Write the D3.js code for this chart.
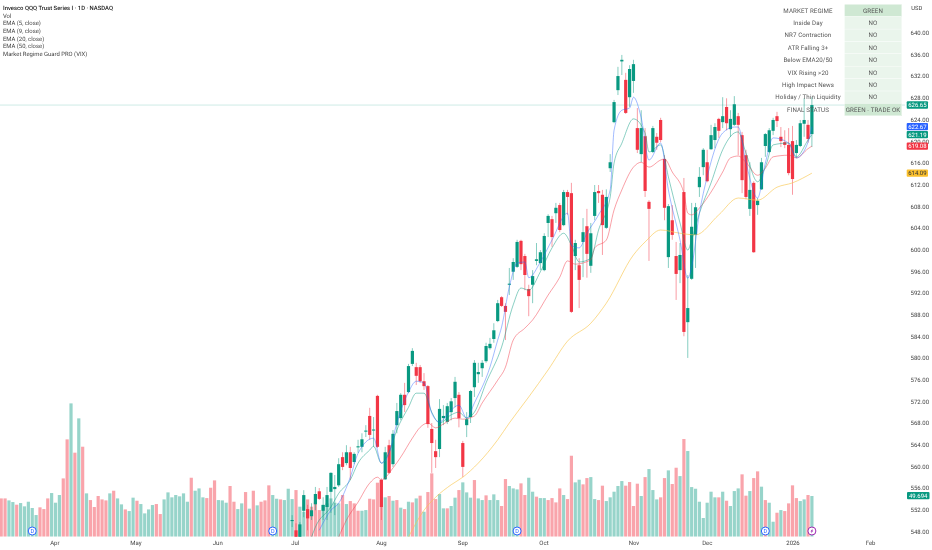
<!DOCTYPE html>
<html>
<head>
<meta charset="utf-8">
<script src="https://d3js.org/d3.v7.min.js"></script>
<style>
    body { margin: 0; background: #fff; }
    svg { display: block; filter: blur(0.3px); }
    text { font-family: Roboto, "Noto Sans", sans-serif; text-rendering: geometricPrecision; }
</style>
</head>
<body>
<svg width="932" height="550"></svg>

<script>
    // daily volume in millions, one per bar, first bar is bar 0
    const volume = [46.3,46.3,43.9,41.9,38.7,40.7,36.7,42.3,34.7,26.2,35.5,33.4,46.3,52.8,41.1,50.4,70.5,117.7,161.2,101.6,143.1,108.8,52.4,44.3,35.9,49.2,45.1,43.9,52.4,55.6,46.3,39.1,33.0,31.0,47.2,43.5,39.5,28.2,33.0,38.3,39.5,27.4,45.1,53.6,47.6,50.4,48.8,52.4,42.3,71.3,55.6,58.4,47.6,46.7,59.2,68.1,44.3,43.9,41.1,61.3,42.3,33.4,40.3,54.0,33.9,55.6,37.9,42.3,43.9,62.1,50.4,45.9,45.1,44.3,58.0,
        45.5,56.4,36.3,30.2,45.1,36.3,41.5,32.2,38.3,40.3,46.3,41.1,40.3,50.4,39.5,43.1,40.3,31.4,31.4,32.2,45.9,45.1,65.3,68.5,47.6,49.2,43.5,44.3,35.1,33.4,42.3,41.5,46.3,49.6,30.2,54.0,76.6,45.5,51.6,34.3,34.3,37.1,47.2,56.4,65.7,53.6,47.2,68.5,46.3,44.3,50.0,44.3,51.2,44.3,
        37.1,69.7,61.3,58.4,57.2,64.5,50.4,71.3,54.4,48.4,46.7,46.7,44.3,46.7,41.5,58.4,50.4,45.5,97.9,65.7,68.9,63.3,70.9,72.1,45.5,44.3,61.7,43.1,47.6,54.4,61.3,67.3,61.7,66.1,37.1,64.1,49.2,72.1,81.8,56.4,45.1,47.6,70.9,80.2,63.7,83.4,73.3,118.1,103.6,60.0,58.0,42.3,22.6,41.1,54.4,47.6,47.6,54.4,43.5,37.1,55.2,58.4,75.4,49.6,55.2,70.9,79.0,60.5,44.3,41.1,18.1,29.0,32.2,31.0,40.3,62.1,46.7,43.1,45.1,50.4,49.2];

    // g = up volume bar, r = down volume bar
    const volumeSide = ('rrggrgggggrrrgggrrgrgrgrrrrrgrggrggrggggrrgggggggrgggrrrgggrrggrgrgrrrggrgg' +
        'grggrrrrgggggrgrrrggrrrrgrgrgrgrgrgrrrggrggrgggrggrggg' +
        'rrgggrrggrggrrrrgrrggrrggrrgggggrrrrgrgggrrgrrgrggggggggrgrgggrrgrrgrggrgrrrrggrg').split('');

    // candles start here, the bars before sit below the price range of the picture
    const firstCandle = 75;
    const open = [549.9,548.2,546.4,551.8,552.1,550.8,553.0,555.4,551.8,552.5,555.3,555.8,556.5,561.7,560.6,562.6,560.8,563.5,563.6,566.4,569.3,566.6,573.0,557.5,557.6,563.9,560.4,567.6,568.9,573.2,573.7,578.9,578.3,578.3,575.7,574.8,566.9,562.8,563.2,568.9,568.2,570.0,572.6,573.2,564.3,567.6,569.1,574.6,577.0,578.1,579.4,581.8,583.5,586.8,591.2,589.6,593.5,595.9,596.8,601.6,598.8,592.7,593.5,597.9,597.5,596.2,604.9,605.6,606.7,608.2,604.5,610.6,610.4,598.8,597.1,601.4,604.3,597.0,606.2,610.8,610.1,604.0,615.0,623.5,629.4,634.7,631.3,628.1,631.1,622.4,617.6,620.9,608.8,618.0,620.8,623.9,616.7,598.6,605.4,598.8,596.2,610.6,586.6,594.6,602.7,611.5,615.2,616.1,618.5,620.2,624.1,623.5,626.3,622.2,623.0,624.6,621.1,617.4,607.5,612.3,608.2,611.1,619.1,618.0,621.9,624.6,620.8,619.8,619.3,620.0,617.8,619.1,623.2,623.0,621.3];
    const high = [551.0,549.5,549.7,555.6,552.9,553.2,556.2,556.0,554.3,556.2,558.9,558.4,561.5,562.6,563.9,563.6,562.6,564.9,566.1,567.6,570.8,569.1,573.2,557.8,563.6,564.9,566.7,571.7,573.5,575.4,578.9,581.8,579.1,578.7,577.2,575.0,568.0,564.9,572.4,571.3,571.7,572.6,576.5,573.7,564.7,570.0,574.1,579.6,579.1,579.6,582.8,583.7,586.4,590.7,591.4,590.1,596.6,598.4,601.8,601.8,599.2,593.5,596.2,601.2,599.9,603.0,606.5,606.2,608.6,608.6,611.0,611.0,612.3,601.8,598.4,605.8,607.5,604.9,611.9,611.9,611.0,611.1,617.6,627.6,633.7,635.9,632.6,634.0,635.0,626.1,625.7,622.4,609.1,622.8,621.5,624.3,617.4,608.4,608.2,601.4,601.2,613.2,595.3,608.6,608.6,615.2,618.7,618.4,623.0,623.3,624.3,628.1,627.9,625.7,628.3,625.2,621.7,618.4,616.1,612.6,609.5,616.9,621.5,622.4,624.3,625.4,622.6,622.0,622.4,622.8,620.2,623.9,627.9,623.9,628.1];
    const low = [548.8,545.5,545.5,550.6,548.2,550.1,551.9,553.8,550.1,550.1,551.4,551.0,556.2,559.3,560.2,557.5,560.4,562.5,562.6,565.4,564.9,563.6,563.4,550.1,557.5,558.6,559.9,566.1,568.5,570.0,573.5,578.5,575.0,575.4,574.1,567.1,558.8,559.7,561.7,567.6,567.8,568.5,570.9,567.2,558.0,565.4,568.0,572.8,575.4,576.5,579.1,581.5,582.8,586.6,589.4,583.3,591.6,594.4,596.6,596.2,592.5,587.7,590.1,597.1,596.2,596.0,602.3,600.5,604.9,603.2,604.3,606.4,588.3,596.2,589.2,594.9,594.8,595.7,605.4,608.6,599.0,603.8,614.3,623.3,628.5,632.2,625.0,626.3,628.9,617.8,616.1,609.7,597.9,617.8,618.4,619.8,605.4,596.6,601.8,590.7,593.8,584.0,580.0,594.4,596.6,609.7,613.7,612.4,618.4,618.7,620.6,622.4,622.0,620.8,622.8,617.4,610.4,609.3,606.2,599.4,606.4,611.0,617.1,617.8,621.1,622.6,618.9,618.7,613.7,610.1,616.9,618.9,620.8,619.7,618.9];
    const close = [550.1,546.4,549.3,554.7,550.4,551.9,554.9,554.0,552.9,554.7,558.8,556.2,560.4,559.9,562.6,559.7,562.3,563.7,565.0,566.6,565.8,566.8,563.6,552.5,562.6,558.8,566.0,570.2,573.2,571.3,578.5,581.3,576.7,575.7,574.8,567.8,564.3,561.7,570.6,569.3,571.1,572.0,575.6,568.9,559.9,568.7,573.9,579.1,577.4,579.1,582.2,582.6,585.1,590.1,589.6,588.5,593.7,597.7,601.4,597.3,595.3,591.4,595.1,598.2,599.5,602.5,606.2,602.3,607.7,603.6,610.6,609.7,588.5,601.2,594.4,603.2,599.2,603.0,610.6,610.4,604.5,609.7,616.1,627.2,632.0,635.0,625.2,633.3,634.2,618.4,622.4,610.8,607.5,622.4,619.7,620.2,607.7,608.0,602.7,595.5,599.0,584.8,589.2,604.2,607.8,613.4,618.4,612.6,621.1,622.6,621.9,624.6,623.3,624.1,626.8,623.0,612.8,609.7,611.0,599.5,609.0,616.1,621.3,622.0,623.9,623.7,620.0,619.3,614.1,613.0,619.3,623.3,623.9,620.4,626.65];

    // EMA lines, read at the turning points: bar number and price
    const ema5Bars = [82,85,87,90,92,96,98,100,102,105,107,109,111,113,116,118,120,122,126,128,129,131,133,135,136,139,142,146,147,149,151,154,157,158,160,162,163,165,167,170,172,175,177,178,180,182,186,189,190,192,195,197,199,203,205,208,209];
    const ema5 = [548.2,551.9,553.2,558.0,562.4,565.2,560.6,562.4,568.0,573.7,575.7,575.4,569.8,568.2,570.4,571.3,568.9,571.7,578.3,583.3,585.7,593.1,597.5,597.7,594.8,597.7,601.75,606.7,600.8,600.3,603.0,606.4,611.0,622.0,625.7,626.1,628.1,624.3,616.5,619.65,611.0,601.75,594.7,596.8,606.7,613.4,621.5,622.6,622.6,616.1,609.5,615.96,620.6,619.65,616.9,619.8,622.67];
    const ema9Bars = [80,81,85,87,90,92,95,96,98,100,102,105,107,109,111,113,116,118,120,122,125,129,132,134,136,139,142,145,147,149,152,154,157,158,160,163,166,167,170,172,175,177,178,180,183,186,189,190,192,195,197,199,203,205,208,209];
    const ema9 = [546.95,548.8,552.5,555.0,557.5,560.6,563.0,563.7,560.6,562.6,566.7,570.9,573.5,573.5,570.0,568.0,569.5,570.0,568.9,570.0,575.4,582.0,589.8,592.9,592.5,595.9,600.3,603.0,600.8,597.7,598.4,603.6,609.7,615.96,619.6,624.1,621.5,618.0,619.3,613.4,604.9,599.9,601.75,606.7,612.3,618.4,621.5,621.7,617.8,612.5,615.2,619.3,619.65,617.1,620.2,621.19];
    const ema20Bars = [87,89,92,95,97,98,101,103,106,108,110,112,114,117,119,122,124,128,130,132,135,137,141,144,146,148,152,153,156,158,160,163,165,167,170,171,173,176,177,178,180,183,186,188,190,192,195,197,199,203,205,208,209];
    const ema20 = [546.95,550.1,553.4,556.9,558.0,557.5,559.7,561.7,565.2,567.2,568.0,567.1,567.8,568.9,568.7,569.3,571.7,575.9,578.3,583.3,585.5,587.0,591.6,594.9,597.9,597.3,598.1,600.3,601.75,607.3,611.0,615.2,616.1,615.2,616.5,616.7,614.3,610.4,606.7,606.4,607.65,610.6,614.3,616.9,617.25,616.1,613.7,615.0,617.1,617.4,616.9,618.6,619.08];
    const ema50Bars = [105,109,112,116,119,123,128,131,136,141,146,152,156,163,166,170,175,179,185,190,195,200,204,209];
    const ema50 = [546.95,551.9,554.3,556.6,558.0,560.6,564.9,568.0,572.8,577.8,583.1,586.4,590.1,599.0,601.4,603.6,603.0,602.7,606.4,609.5,609.1,611.5,612.3,614.09];

    // axis labels
    const priceTicks = d3.range(548, 641, 4);
    const timeTickBars = [13.7,34.6,55.7,75.7,97.9,118.9,139.8,163,181.9,204,224];
    const timeTickLabels = ['Apr','May','Jun','Jul','Aug','Sep','Oct','Nov','Dec','2026','Feb'];

    // last values on the price scale
    const priceTags = [626.65, 622.67, 621.19, 619.08, 614.09];
    const priceTagColors = ['#089981', '#2962ff', '#089981', '#f23645', '#fbc02d'];
    const lastVolume = 49.69;
    const lastVolumeLabel = '49.694';

    // dividends and the earnings style flash at the end
    const dividendBars = [8, 70, 133, 197];
    const flashBar = 209;

    const legendLines = ['Invesco QQQ Trust Series I · 1D · NASDAQ','Vol','EMA (5, close)','EMA (9, close)','EMA (20, close)','EMA (50, close)','Market Regime Guard PRO (VIX)'];

    const regimeLabels = ['MARKET REGIME','Inside Day','NR7 Contraction','ATR Falling 3+','Below EMA20/50','VIX Rising >20','High Impact News','Holiday / Thin Liquidity','FINAL STATUS'];
    const regimeValues = ['GREEN','NO','NO','NO','NO','NO','NO','NO','GREEN - TRADE OK'];

    const UP = '#089981', DOWN = '#f23645';

    const svg = d3.select('svg');

    const x = d3.scaleLinear().domain([0, 209]).range([1.2, 811.9]);
    const y = d3.scaleLinear().domain([548, 640]).range([531.4, 32.7]);
    const yVol = d3.scaleLinear().domain([0, 100]).range([536.7, 454]);

    svg.append('clipPath').attr('id', 'pane')
        .append('rect').attr('x', 0).attr('y', 0).attr('width', 905).attr('height', 536.7);

    const pane = svg.append('g').attr('clip-path', 'url(#pane)');

    // volume
    pane.selectAll('.vol')
        .data(volume)
        .enter().append('rect')
        .attr('class', 'vol')
        .attr('x', (d, i) => x(i) - 1.6)
        .attr('y', d => yVol(d))
        .attr('width', 3.2)
        .attr('height', d => yVol(0) - yVol(d))
        .attr('fill', (d, i) => volumeSide[i] === 'g' ? UP : DOWN)
        .attr('opacity', (d, i) => volumeSide[i] === 'g' ? 0.42 : 0.45);

    // last price line
    pane.append('line')
        .attr('x1', 0).attr('x2', 905)
        .attr('y1', y(priceTags[0])).attr('y2', y(priceTags[0]))
        .attr('stroke', '#089981').attr('stroke-opacity', 0.25).attr('stroke-width', 0.8);

    // candles
    const candles = open.map((o, i) => ({bar: firstCandle + i, o: o, h: high[i], l: low[i], c: close[i]}));

    pane.selectAll('.wick')
        .data(candles)
        .enter().append('line')
        .attr('class', 'wick')
        .attr('x1', d => x(d.bar)).attr('x2', d => x(d.bar))
        .attr('y1', d => y(d.h)).attr('y2', d => y(d.l))
        .attr('stroke', d => d.c >= d.o ? UP : DOWN)
        .attr('stroke-opacity', 0.55)
        .attr('stroke-width', 0.9);

    pane.selectAll('.body')
        .data(candles)
        .enter().append('rect')
        .attr('class', 'body')
        .attr('x', d => x(d.bar) - 1.6)
        .attr('width', 3.2)
        .attr('y', d => y(Math.max(d.o, d.c)))
        .attr('height', d => Math.max(1, Math.abs(y(d.o) - y(d.c))))
        .attr('fill', d => d.c >= d.o ? UP : DOWN);

    // EMA lines
    const emaLine = d3.line()
        .x(d => x(d[0]))
        .y(d => y(d[1]))
        .curve(d3.curveMonotoneX);

    [[ema50Bars, ema50, '#f9c74f', 0.8], [ema20Bars, ema20, '#f23645', 0.6], [ema9Bars, ema9, '#089981', 0.6], [ema5Bars, ema5, '#2962ff', 0.55]].forEach(s => {
        pane.append('path')
            .attr('d', emaLine(s[0].map((b, i) => [b, s[1][i]])))
            .attr('fill', 'none')
            .attr('stroke', s[2])
            .attr('stroke-opacity', s[3])
            .attr('stroke-width', 0.8);
    });

    // dividends
    dividendBars.forEach(b => {
        const cx = x(b), cy = 531;
        svg.append('circle').attr('cx', cx).attr('cy', cy).attr('r', 4)
            .attr('fill', '#fff').attr('stroke', '#2962ff').attr('stroke-width', 1);
        svg.append('text').attr('x', cx).attr('y', cy + 2)
            .attr('text-anchor', 'middle').attr('font-size', 5.5).attr('fill', '#2962ff').text('D');
    });

    const flashX = x(flashBar);
    svg.append('circle').attr('cx', flashX).attr('cy', 531).attr('r', 4)
        .attr('fill', '#fff').attr('stroke', '#9c27b0').attr('stroke-width', 1);
    svg.append('path')
        .attr('transform', `translate(${flashX},531)`)
        .attr('d', 'M0.8,-2.6 L-1.4,0.4 L-0.2,0.4 L-0.8,2.6 L1.4,-0.5 L0.2,-0.5 Z')
        .attr('fill', '#9c27b0');

    // axes
    const priceAxis = d3.axisRight(y).tickValues(priceTicks).tickSize(0).tickFormat(d3.format('.2f'));
    const gPrice = svg.append('g').attr('transform', 'translate(906,0)').call(priceAxis);
    gPrice.select('.domain').remove();
    gPrice.selectAll('text').attr('x', 4.6).attr('font-size', 6).attr('fill', '#444');

    const labelOf = d3.scaleOrdinal().domain(timeTickBars).range(timeTickLabels);
    const timeAxis = d3.axisBottom(x).tickValues(timeTickBars).tickSize(0).tickFormat(d => labelOf(d));
    const gTime = svg.append('g').attr('transform', 'translate(0,537)').call(timeAxis);
    gTime.select('.domain').remove();
    gTime.selectAll('text').attr('y', 4.2).attr('font-size', 6).attr('fill', '#444');

    svg.append('text').attr('x', 916.7).attr('y', 10).attr('text-anchor', 'middle')
        .attr('font-size', 5.8).attr('fill', '#444').text('USD');

    // price tags
    priceTags.forEach((p, i) => {
        const g = svg.append('g').attr('transform', `translate(906.7,${y(p)})`);
        g.append('rect').attr('x', 0).attr('y', -3.7).attr('width', 21.3).attr('height', 7.4)
            .attr('rx', 1).attr('fill', priceTagColors[i]);
        g.append('text').attr('x', 10.7).attr('y', 2.1).attr('text-anchor', 'middle')
            .attr('font-size', 6).attr('fill', i === 4 ? '#333' : '#fff').text(d3.format('.2f')(p));
    });

    const volTag = svg.append('g').attr('transform', `translate(907,${yVol(lastVolume)})`);
    volTag.append('rect').attr('x', 0).attr('y', -3.7).attr('width', 22.5).attr('height', 7.4)
        .attr('rx', 1).attr('fill', UP);
    volTag.append('text').attr('x', 11.2).attr('y', 2.1).attr('text-anchor', 'middle')
        .attr('font-size', 6).attr('fill', '#fff').text(lastVolumeLabel);

    // legend
    svg.selectAll('.legend')
        .data(legendLines)
        .enter().append('text')
        .attr('class', 'legend')
        .attr('x', 3)
        .attr('y', (d, i) => i === 0 ? 9.6 : 9.8 + i * 7.7)
        .attr('font-size', 5.9)
        .attr('font-weight', (d, i) => i === 0 ? 500 : 400)
        .attr('fill', (d, i) => i === 0 ? '#222' : '#444')
        .text(d => d);

    // regime table
    const rowY = d3.scaleBand().domain(d3.range(regimeLabels.length)).range([4.3, 115.8]);
    const table = svg.append('g');

    table.selectAll('.cell')
        .data(regimeValues)
        .enter().append('rect')
        .attr('class', 'cell')
        .attr('x', 844.5)
        .attr('width', 57.3)
        .attr('y', (d, i) => rowY(i))
        .attr('height', rowY.bandwidth())
        .attr('fill', d => d === 'NO' ? '#eaf5ec' : '#cfe8d3')
        .attr('stroke', '#fff')
        .attr('stroke-width', 0.3);

    table.selectAll('.rowLabel')
        .data(regimeLabels)
        .enter().append('text')
        .attr('class', 'rowLabel')
        .attr('x', 808)
        .attr('y', (d, i) => rowY(i) + rowY.bandwidth() / 2 + 2.2)
        .attr('text-anchor', 'middle')
        .attr('font-size', 6.2)
        .attr('letter-spacing', 0.1)
        .attr('fill', '#555')
        .text(d => d);

    table.selectAll('.rowValue')
        .data(regimeValues)
        .enter().append('text')
        .attr('class', 'rowValue')
        .attr('x', 873)
        .attr('y', (d, i) => rowY(i) + rowY.bandwidth() / 2 + 2.2)
        .attr('text-anchor', 'middle')
        .attr('font-size', 6.2)
        .attr('letter-spacing', 0.1)
        .attr('fill', '#555')
        .text(d => d);
</script>
</body>
</html>
